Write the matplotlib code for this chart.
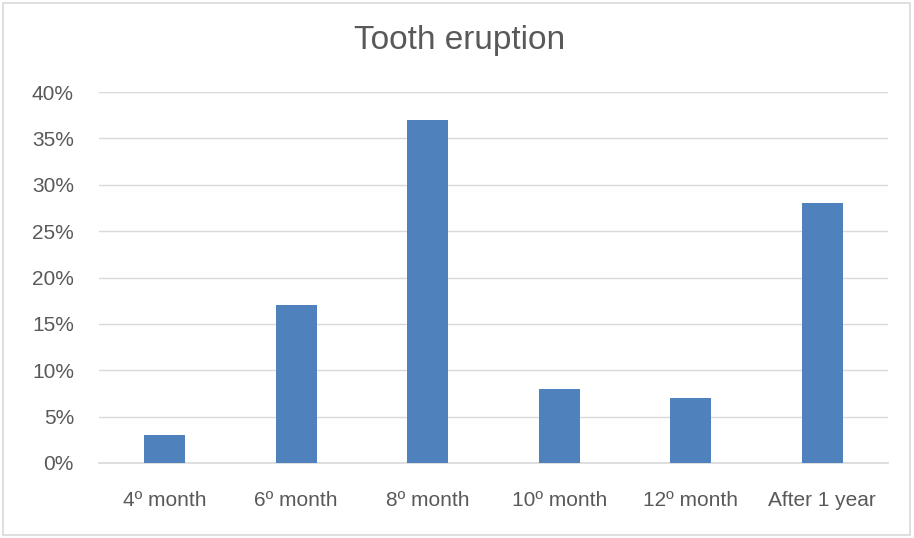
import numpy as np
import matplotlib.pyplot as plt
from matplotlib.patches import Rectangle
from matplotlib.ticker import PercentFormatter

categories = ['4º month', '6º month', '8º month', '10º month', '12º month', 'After 1 year']
values = [3, 17, 37, 8, 7, 28]
yticks = [0, 5, 10, 15, 20, 25, 30, 35, 40]

bar_color = '#4F81BD'
text_color = '#595959'
grid_color = '#D9D9D9'

plt.rcParams['font.family'] = ['Liberation Sans', 'DejaVu Sans']

fig = plt.figure(figsize=(9.14, 5.38), dpi=100)
ax = fig.add_axes([99 / 914, 1 - 463 / 538, 789 / 914, 371 / 538])

x = np.arange(len(categories))
ax.bar(x, values, width=0.31, color=bar_color, zorder=3)

ax.set_xlim(-0.5, len(categories) - 0.5)
ax.set_ylim(0, 40)
ax.set_yticks(yticks)
ax.yaxis.set_major_formatter(PercentFormatter(decimals=0))
ax.set_xticks(x)
ax.set_xticklabels(categories)
ax.grid(axis='y', color=grid_color, linewidth=1, zorder=0)
for s in ['top', 'right', 'left']:
    ax.spines[s].set_visible(False)
ax.spines['bottom'].set_color(grid_color)
ax.spines['bottom'].set_linewidth(1.2)
ax.tick_params(axis='both', length=0, labelcolor=text_color)
ax.tick_params(axis='x', pad=20, labelsize=15)
ax.tick_params(axis='y', pad=18, labelsize=15)

fig.text(0.503, 1 - 41 / 538, 'Tooth eruption', ha='center', va='center',
         fontsize=24, color=text_color)

fig.patches.append(Rectangle((3 / 914, 3 / 538), 907 / 914, 532 / 538,
                             transform=fig.transFigure, fill=False,
                             edgecolor=grid_color, linewidth=1.2))

plt.savefig('out.png', dpi=100)
